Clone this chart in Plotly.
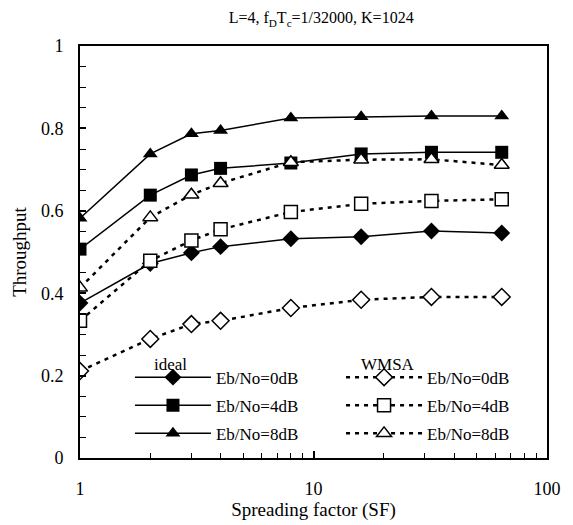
import plotly.graph_objects as go

# DATA
sf = [1, 2, 3, 4, 8, 16, 32, 64]

ideal_0db = [0.376, 0.472, 0.498, 0.513, 0.532, 0.537, 0.551, 0.546]
ideal_4db = [0.507, 0.638, 0.687, 0.703, 0.716, 0.738, 0.742, 0.742]
ideal_8db = [0.582, 0.738, 0.787, 0.795, 0.825, 0.828, 0.830, 0.830]

wmsa_0db = [0.211, 0.289, 0.325, 0.333, 0.364, 0.384, 0.391, 0.391]
wmsa_4db = [0.333, 0.479, 0.528, 0.555, 0.597, 0.617, 0.624, 0.628]
wmsa_8db = [0.413, 0.584, 0.639, 0.667, 0.718, 0.724, 0.725, 0.711]

labels = ["Eb/No=0dB", "Eb/No=4dB", "Eb/No=8dB"]
symbols = ["diamond", "square", "triangle-up"]

FONT = "Liberation Serif, Times New Roman, serif"

fig = go.Figure()

# ideal : solid lines, filled markers
for i, ys in enumerate([ideal_0db, ideal_4db, ideal_8db]):
    fig.add_trace(go.Scatter(
        x=sf, y=ys, name=labels[i], mode="lines+markers",
        line=dict(color="black", width=1.5),
        marker=dict(symbol=symbols[i], size=13, color="black"),
        legend="legend", legendgroup=f"i{i}",
    ))

# WMSA : dotted lines, open markers
for i, ys in enumerate([wmsa_0db, wmsa_4db, wmsa_8db]):
    fig.add_trace(go.Scatter(
        x=sf, y=ys, name=labels[i], mode="lines+markers",
        line=dict(color="black", width=2.5, dash="4px,5px"),
        marker=dict(symbol=symbols[i], size=13, color="white",
                    line=dict(color="black", width=1.5)),
        legend="legend2", legendgroup=f"w{i}",
    ))

leg_common = dict(
    font=dict(family=FONT, size=17, color="black"),
    bgcolor="rgba(0,0,0,0)",
    itemwidth=76,
    tracegroupgap=3,
    traceorder="grouped",
    yanchor="bottom", y=0.0155,
    xanchor="left",
)

# the page body adds an 8px offset, so margins are set 8px smaller
fig.update_layout(
    width=573, height=525,
    margin=dict(l=72, r=34, t=38, b=75),
    paper_bgcolor="white", plot_bgcolor="white",
    font=dict(family=FONT, size=18, color="black"),
    title=dict(text="L=4, f<sub>D</sub>T<sub>c</sub>=1/32000, K=1024",
               x=0.5465, xanchor="center", y=0.992, yanchor="top",
               font=dict(family=FONT, size=16)),
    showlegend=True,
    legend=dict(x=0.107, **leg_common),
    legend2=dict(x=0.559, **leg_common),
    xaxis=dict(
        type="log", range=[0, 2],
        title=dict(text="Spreading factor (SF)", standoff=2,
                   font=dict(family=FONT, size=19)),
        tickvals=[1, 10, 100], ticktext=["1", "10", "100"],
        ticks="inside", ticklen=7, tickwidth=1.5, tickcolor="black",
        ticklabelstandoff=13,
        minor=dict(ticks="inside", ticklen=5, tickwidth=1.2, tickcolor="black",
                   tickvals=[2, 3, 4, 5, 6, 7, 8, 9, 20, 30, 40, 50, 60, 70, 80, 90]),
        showline=True, linecolor="black", linewidth=2, mirror=True,
        showgrid=False, zeroline=False,
        tickfont=dict(family=FONT, size=18),
    ),
    yaxis=dict(
        range=[0, 1],
        title=dict(text="Throughput", standoff=9, font=dict(family=FONT, size=19)),
        tickvals=[0, 0.2, 0.4, 0.6, 0.8, 1], ticktext=["0", "0.2", "0.4", "0.6", "0.8", "1"],
        ticks="inside", ticklen=6, tickwidth=1.5, tickcolor="black",
        ticklabelstandoff=11,
        minor=dict(ticks="inside", ticklen=6, tickwidth=1.2, tickcolor="black", dtick=0.05),
        showline=True, linecolor="black", linewidth=2, mirror=True,
        showgrid=False, zeroline=False,
        tickfont=dict(family=FONT, size=18),
    ),
)

# legend headers
fig.add_annotation(text="ideal", xref="paper", yref="paper", x=0.154, y=0.198,
                   showarrow=False, font=dict(family=FONT, size=17))
fig.add_annotation(text="WMSA", xref="paper", yref="paper", x=0.66, y=0.198,
                   showarrow=False, font=dict(family=FONT, size=17))

fig.write_html("out.html")
